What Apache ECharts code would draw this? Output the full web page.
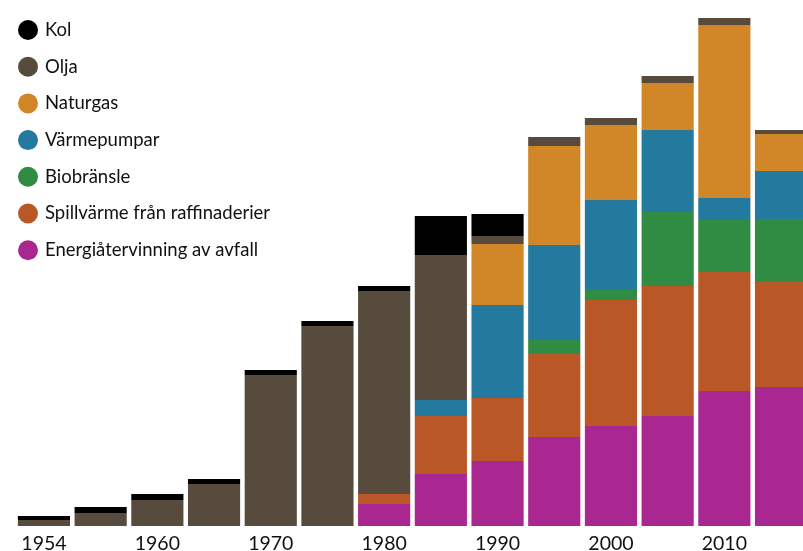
<!DOCTYPE html>
<html>
<head>
<meta charset="utf-8">
<title>Fjärrvärme</title>
<script src="https://cdn.jsdelivr.net/npm/echarts@6/dist/echarts.min.js"></script>
<style>
  html, body { margin: 0; padding: 0; background: #fff; }
  #chart { width: 803px; height: 551px; }
</style>
</head>
<body>
<div id="chart"></div>
<script>
// år (staplar)
var years = ['1954', '1957', '1960', '1965', '1970', '1975', '1980', '1985', '1990', '1995', '2000', '2005', '2010', '2015'];

// värden
var energi      = [0,   0,   0,   0,   0,    0,    2.2,  5.2,  6.5,  8.9,  10.0, 11.0, 13.5, 13.9];
var spillvarme  = [0,   0,   0,   0,   0,    0,    1.0,  5.8,  6.3,  8.3,  12.6, 13.0, 11.9, 10.5];
var biobransle  = [0,   0,   0,   0,   0,    0,    0,    0,    0,    1.4,  1.1,  7.4,  5.2,  6.3];
var varmepumpar = [0,   0,   0,   0,   0,    0,    0,    1.6,  9.3,  9.5,  8.9,  8.2,  2.2,  4.8];
var naturgas    = [0,   0,   0,   0,   0,    0,    0,    0,    6.1,  9.9,  7.5,  4.7,  17.3, 3.7];
var olja        = [0.6, 1.3, 2.6, 4.2, 15.1, 20.0, 20.3, 14.5, 0.8,  0.9,  0.7,  0.7,  0.7,  0.4];
var kol         = [0.4, 0.6, 0.6, 0.5, 0.5,  0.5,  0.5,  3.9,  2.2,  0,    0,    0,    0,    0];

var myChart = echarts.init(document.getElementById('chart'));

function bar(name, data, color) {
  return {
    name: name,
    type: 'bar',
    stack: 'total',
    barCategoryGap: '8%',
    data: data,
    itemStyle: { color: color }
  };
}

var option = {
  animation: false,
  backgroundColor: '#fff',
  textStyle: { fontFamily: 'Lato' },
  grid: { left: 15.6, right: -6.4, top: 0, bottom: 25, outerBoundsMode: 'none', containLabel: false },
  legend: {
    orient: 'vertical',
    left: 13,
    top: 15,
    icon: 'circle',
    itemWidth: 20,
    itemHeight: 20,
    itemGap: 16.7,
    textStyle: { fontSize: 18.5, color: '#111', fontFamily: 'Lato', lineHeight: 20, padding: [0, 0, 0, 2] },
    data: ['Kol', 'Olja', 'Naturgas', 'Värmepumpar', 'Biobränsle', 'Spillvärme från raffinaderier', 'Energiåtervinning av avfall']
  },
  xAxis: {
    type: 'category',
    data: years,
    axisLine: { show: false },
    axisTick: { show: false },
    axisLabel: { interval: 1, margin: 8, fontSize: 19.5, color: '#111', fontFamily: 'Lato' }
  },
  yAxis: {
    type: 'value',
    show: false,
    min: 0,
    max: 52.6,
    splitLine: { show: false }
  },
  series: [
    bar('Energiåtervinning av avfall', energi, '#aa2690'),
    bar('Spillvärme från raffinaderier', spillvarme, '#b95826'),
    bar('Biobränsle', biobransle, '#308b43'),
    bar('Värmepumpar', varmepumpar, '#24799f'),
    bar('Naturgas', naturgas, '#d18727'),
    bar('Olja', olja, '#574b3d'),
    bar('Kol', kol, '#000000')
  ]
};

myChart.setOption(option);
</script>
</body>
</html>
